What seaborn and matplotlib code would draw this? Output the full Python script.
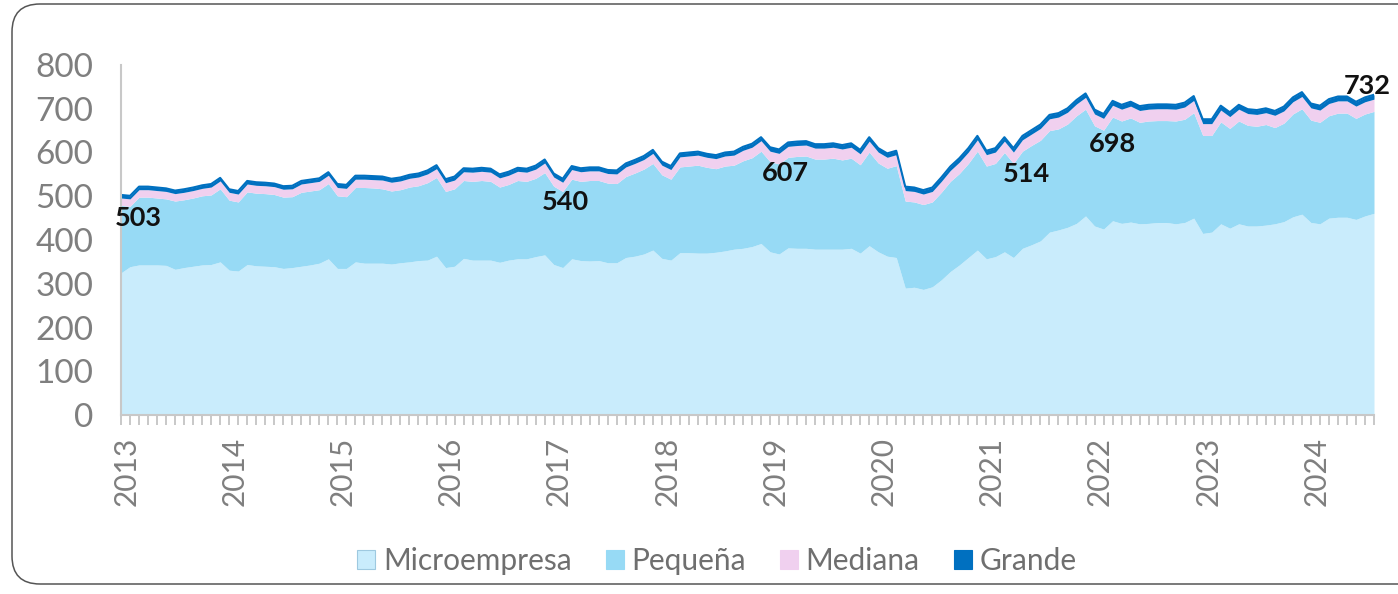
import matplotlib
matplotlib.use("Agg")
import matplotlib.pyplot as plt
from matplotlib.patches import FancyBboxPatch, Patch
import seaborn as sns
import numpy as np

# ---------------- data (monthly, Jan 2013 - Aug 2024) ----------------
years = [str(y) for y in range(2013, 2025)]
series_names = ["Microempresa", "Pequeña", "Mediana", "Grande"]

micro = [325, 339, 343, 343, 343, 342, 333, 337, 340, 343, 344, 350,
         331, 329, 344, 341, 340, 339, 335, 337, 340, 343, 347, 357,
         335, 335, 350, 347, 347, 347, 345, 348, 350, 353, 354, 363,
         337, 340, 358, 354, 354, 354, 349, 354, 357, 357, 362, 366,
         344, 337, 357, 353, 352, 353, 348, 348, 360, 363, 368, 377,
         358, 354, 371, 371, 370, 370, 372, 375, 379, 381, 385, 392,
         373, 368, 382, 381, 381, 379, 379, 379, 379, 381, 370, 387,
         373, 363, 360, 290, 292, 287, 293, 309, 328, 343, 360, 377,
         357, 362, 373, 360, 381, 389, 398, 418, 423, 429, 438, 455,
         432, 425, 444, 438, 441, 437, 438, 440, 440, 437, 440, 450,
         415, 418, 437, 427, 437, 432, 432, 434, 437, 442, 453, 459,
         440, 437, 450, 452, 452, 447, 455, 461]

pequena = [154, 138, 155, 155, 153, 152, 156, 155, 156, 158, 159, 167,
           160, 158, 166, 166, 166, 165, 163, 162, 169, 169, 168, 172,
           166, 164, 170, 173, 172, 170, 167, 167, 171, 171, 177, 180,
           174, 177, 178, 180, 182, 180, 172, 173, 179, 177, 179, 188,
           179, 174, 182, 181, 184, 183, 182, 181, 185, 190, 194, 198,
           191, 185, 196, 198, 201, 196, 191, 194, 192, 200, 203, 211,
           206, 206, 207, 210, 211, 206, 206, 208, 204, 206, 202, 214,
           203, 201, 210, 199, 195, 194, 194, 200, 206, 209, 215, 226,
           212, 213, 227, 215, 222, 227, 230, 232, 231, 236, 246, 244,
           229, 226, 237, 234, 238, 232, 234, 233, 233, 235, 236, 241,
           224, 221, 233, 228, 235, 230, 228, 230, 220, 225, 235, 241,
           234, 232, 234, 238, 238, 231, 233, 233]

mediana = [17, 17, 17, 17, 17, 17, 17, 17, 17, 17, 18, 18,
           18, 18, 18, 18, 18, 18, 18, 18, 19, 19, 19, 19,
           19, 19, 19, 19, 19, 20, 20, 20, 20, 20, 20, 20,
           20, 20, 20, 21, 21, 21, 21, 21, 21, 21, 21, 22,
           21, 21, 22, 22, 22, 22, 22, 22, 22, 22, 22, 23,
           22, 22, 23, 23, 23, 23, 23, 23, 23, 24, 24, 24,
           24, 24, 25, 25, 25, 25, 25, 25, 25, 25, 25, 25,
           25, 25, 25, 24, 24, 24, 24, 25, 25, 26, 26, 26,
           26, 26, 26, 26, 26, 26, 27, 27, 27, 27, 27, 27,
           27, 27, 27, 27, 27, 27, 27, 27, 27, 27, 28, 28,
           27, 27, 27, 27, 27, 27, 27, 27, 28, 28, 28, 28,
           28, 28, 28, 28, 28, 28, 28, 28]

grande = [7, 7, 7, 7, 7, 7, 7, 7, 7, 7, 7, 7,
          7, 7, 7, 7, 7, 7, 7, 7, 7, 7, 7, 7,
          8, 8, 8, 8, 8, 8, 8, 8, 8, 8, 8, 8,
          8, 8, 8, 8, 8, 8, 8, 8, 8, 8, 8, 8,
          8, 8, 8, 8, 8, 8, 8, 8, 8, 8, 8, 8,
          8, 8, 8, 8, 8, 8, 8, 8, 8, 8, 8, 8,
          9, 9, 9, 9, 9, 9, 9, 9, 9, 9, 9, 9,
          9, 9, 9, 9, 9, 9, 9, 9, 9, 9, 9, 9,
          9, 9, 9, 9, 9, 9, 9, 9, 9, 9, 9, 9,
          10, 10, 10, 10, 10, 10, 10, 10, 10, 10, 10, 10,
          10, 10, 10, 10, 10, 10, 10, 10, 10, 10, 10, 10,
          10, 10, 10, 10, 10, 10, 10, 10]

label_texts = ["503", "540", "607", "514", "698", "732"]
label_x = [1.9, 49.3, 73.7, 100.4, 110.0, 138.3]
label_y = [450, 488, 553, 552, 620, 753]

colors = ["#c9ecfc", "#97daf5", "#f0d0ef", "#0070c0"]

# ---------------- figure ----------------
sns.set_theme(style="white")
plt.rcParams["font.family"] = ["Lato", "DejaVu Sans"]

W, H = 1398, 594
fig = plt.figure(figsize=(W / 100, H / 100), dpi=100)
ax = fig.add_axes([121 / W, 1 - 415 / H, (1374 - 121) / W, (415 - 65) / H])

x = np.arange(len(micro))
ax.stackplot(x, micro, pequena, mediana, grande, colors=colors,
             labels=series_names, linewidth=0)
total = np.array(micro) + np.array(pequena) + np.array(mediana) + np.array(grande)
sns.lineplot(x=x, y=total, ax=ax, color="#0070c0", linewidth=1.5, legend=False)

ax.set_xlim(0, len(micro) - 1)
ax.set_ylim(0, 800)
ax.set_yticks(range(0, 801, 100))
ax.set_yticklabels([str(v) for v in range(0, 801, 100)])
ax.tick_params(axis="y", length=0, pad=20, labelsize=24, labelcolor="#7f7f7f")

ax.set_xticks([i * 12 + 0.6 for i in range(len(years))])
ax.set_xticklabels(years, rotation=90, ha="center", va="top")
ax.tick_params(axis="x", which="major", length=0, pad=16, labelsize=21.5,
               labelcolor="#7f7f7f")
ax.set_xticks(x, minor=True)
ax.tick_params(axis="x", which="minor", length=7, width=1.4, color="#c8c8c8",
               direction="out", bottom=True)

for s in ["top", "right"]:
    ax.spines[s].set_visible(False)
for s in ["left", "bottom"]:
    ax.spines[s].set_color("#c8c8c8")
    ax.spines[s].set_linewidth(1.5)
ax.grid(False)
ax.set_xlabel("")
ax.set_ylabel("")

for t, lx, ly in zip(label_texts, label_x, label_y):
    ax.text(lx, ly, t, ha="center", va="center", fontsize=19.5,
            fontweight="bold", color="#111111", clip_on=False)

handles = [Patch(facecolor=c, edgecolor=("#9ec9e0" if i == 0 else c), linewidth=0.8)
           for i, c in enumerate(colors)]
fig.legend(handles, series_names, loc="center", bbox_to_anchor=(717 / W, 1 - 561 / H),
           ncol=4, frameon=False, fontsize=21.5, handlelength=0.6, handleheight=0.6,
           handletextpad=0.25, columnspacing=1.15, labelcolor="#6f6f6f")

# rounded outer frame
frame = FancyBboxPatch((12 / W, 10 / H), (W + 30 - 12) / W, (590 - 10) / H,
                       boxstyle="round,pad=0,rounding_size=0.02",
                       transform=fig.transFigure, fill=False,
                       edgecolor="#555555", linewidth=1.1, mutation_aspect=W / H)
fig.patches.append(frame)

fig.savefig("out.png", dpi=100)
